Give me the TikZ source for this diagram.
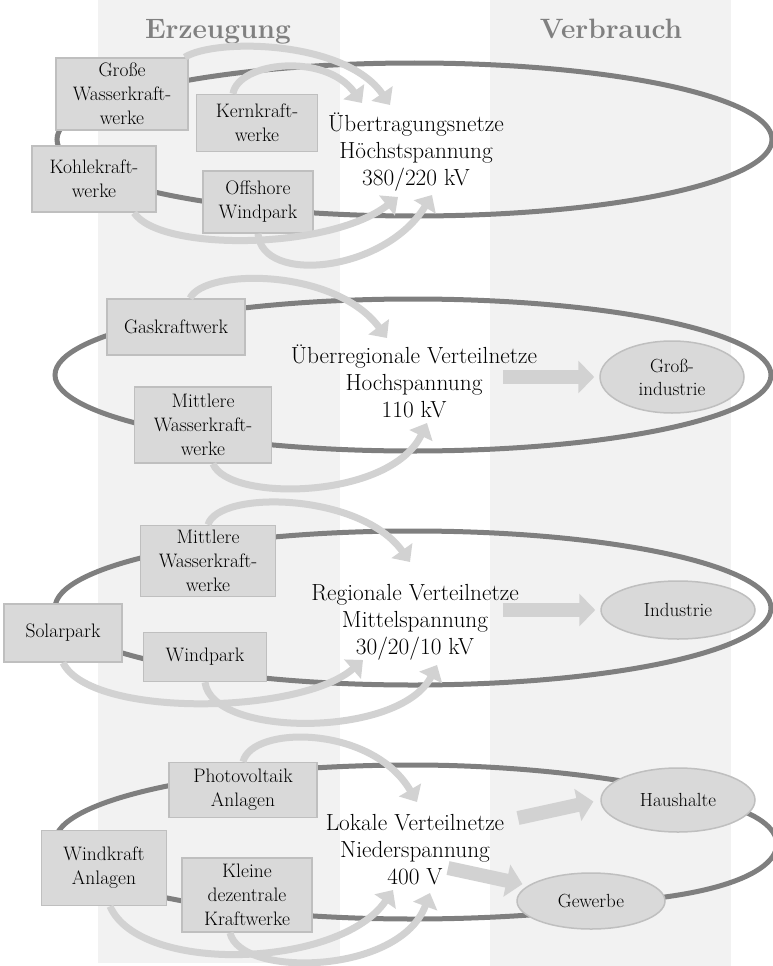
\documentclass[tikz,border=0pt]{standalone}
\usetikzlibrary{arrows.meta,shapes.geometric}
\definecolor{spalte}{HTML}{F2F2F2}
\definecolor{ringgrau}{HTML}{7F7F7F}
\definecolor{kasten}{HTML}{D9D9D9}
\definecolor{kastenrand}{HTML}{BFBFBF}
\definecolor{pfeil}{HTML}{D2D2D2}
\definecolor{titel}{HTML}{808080}

\begin{document}
\begin{tikzpicture}[x=1pt, y=1pt,
    quelle/.style={rectangle, draw=kastenrand, fill=kasten, line width=1.5pt, align=center, inner sep=1pt, font=\fontsize{19.5}{24}\selectfont},
    senke/.style={ellipse, draw=kastenrand, fill=kasten, line width=1.5pt, align=center, inner sep=0pt, font=\fontsize{19}{23}\selectfont},
    netztext/.style={align=center, font=\fontsize{23.3}{27}\selectfont},
    netzring/.style={draw=ringgrau, line width=5pt},
    zufluss/.style={draw=pfeil, line width=7pt, -{Triangle[length=14pt, width=25pt]}},
    abfluss/.style={draw=pfeil, line width=14pt, -{Triangle[length=16pt, width=32pt]}},
    kopf/.style={anchor=base, text=titel, font=\fontsize{28}{30}\selectfont\bfseries}]
    \useasboundingbox (0,0) rectangle (773,-966);
    % Spalten
    \fill[spalte] (98,0) rectangle (340,-963);
    \fill[spalte] (490,0) rectangle (731,-966);
    \node[kopf] (erz) at (218,-38) {Erzeugung};
    \node[kopf] (verb) at (611,-38) {Verbrauch};

    % Netzebenen
    \draw[netzring] (414.5,-139.5) ellipse [x radius=357.5pt, y radius=76.5pt];
    \draw[netzring] (413,-375) ellipse [x radius=358pt, y radius=76pt];
    \draw[netzring] (413,-608) ellipse [x radius=358pt, y radius=77pt];
    \draw[netzring] (413,-765) .. controls (560,-765) and (700,-790) .. (745,-812)
      .. controls (800,-835) and (790,-880) .. (665,-897)
      .. controls (600,-912) and (500,-919) .. (413,-919)
      arc [start angle=270, end angle=90, x radius=358pt, y radius=77pt];

    % Erzeuger
    \node[quelle, minimum width=132pt, minimum height=72pt] (gross) at (122,-94) {Große\\Wasserkraft-\\werke};
    \node[quelle, minimum width=121pt, minimum height=57pt] (kern) at (257,-123) {Kernkraft-\\werke};
    \node[quelle, minimum width=124pt, minimum height=66pt] (kohle) at (94,-179) {Kohlekraft-\\werke};
    \node[quelle, minimum width=110pt, minimum height=62pt] (offshore) at (258,-202) {Offshore\\Windpark};
    \node[quelle, minimum width=138pt, minimum height=56pt] (gas) at (176,-327) {Gaskraftwerk};
    \node[quelle, minimum width=137pt, minimum height=76pt] (mittelb) at (203,-425) {Mittlere\\Wasserkraft-\\werke};
    \node[quelle, minimum width=135pt, minimum height=71pt] (mittelc) at (208,-561) {Mittlere\\Wasserkraft-\\werke};
    \node[quelle, minimum width=118pt, minimum height=58pt] (solar) at (63,-633) {Solarpark};
    \node[quelle, minimum width=123pt, minimum height=49pt] (wind) at (205,-657) {Windpark};
    \node[quelle, minimum width=148pt, minimum height=55pt] (pv) at (243,-790) {Photovoltaik\\Anlagen};
    \node[quelle, minimum width=125pt, minimum height=75pt] (windkraft) at (104,-868) {Windkraft\\Anlagen};
    \node[quelle, minimum width=130pt, minimum height=74pt] (klein) at (247,-895) {Kleine\\dezentrale\\Kraftwerke};

    % Netze
    \node[netztext] (hoechst) at (416,-152) {Übertragungsnetze\\Höchstspannung\\380/220 kV};
    \node[netztext] (hoch) at (414,-381) {Überregionale Verteilnetze\\Hochspannung\\110 kV};
    \node[netztext] (mittel) at (415,-622) {Regionale Verteilnetze\\Mittelspannung\\30/20/10 kV};
    \node[netztext] (nieder) at (415,-850) {Lokale Verteilnetze\\Niederspannung\\400 V};

    % Verbraucher
    \node[senke, minimum width=144pt, minimum height=72pt] (gi) at (672,-377) {Groß-\\industrie};
    \node[senke, minimum width=154pt, minimum height=58pt] (ind) at (678,-610) {Industrie};
    \node[senke, minimum width=154pt, minimum height=64pt] (haus) at (678,-800) {Haushalte};
    \node[senke, minimum width=148pt, minimum height=56pt] (gew) at (591,-901) {Gewerbe};

    % Einspeisung
    \coordinate (ein-a) at (362,-103);
    \coordinate (ein-b) at (390,-105);
    \coordinate (ein-c) at (398,-197);
    \coordinate (ein-d) at (432,-195);
    \coordinate (ein-e) at (387,-338);
    \coordinate (ein-f) at (427,-423);
    \coordinate (ein-g) at (410,-562);
    \coordinate (ein-h) at (363,-660);
    \coordinate (ein-i) at (437,-665);
    \coordinate (ein-j) at (417,-802);
    \coordinate (ein-k) at (393,-890);
    \coordinate (ein-l) at (430,-893);
    \draw[zufluss] ([xshift=-4pt]gross.north east) .. controls (215,-38) and (345,-40) .. (ein-b);
    \draw[zufluss] ([xshift=-24pt]kern.north) .. controls (238,-62) and (325,-52) .. (ein-a);
    \draw[zufluss] ([xshift=40pt]kohle.south) .. controls (160,-252) and (330,-250) .. (ein-c);
    \draw[zufluss] (offshore.south) .. controls (262,-285) and (385,-272) .. (ein-d);
    \draw[zufluss] ([xshift=14pt]gas.north) .. controls (205,-268) and (335,-268) .. (ein-e);
    \draw[zufluss] ([xshift=10pt]mittelb.south) .. controls (228,-502) and (390,-500) .. (ein-f);
    \draw[zufluss] (mittelc.north) .. controls (218,-490) and (360,-492) .. (ein-g);
    \draw[zufluss] (solar.south) .. controls (90,-718) and (300,-715) .. (ein-h);
    \draw[zufluss] (wind.south) .. controls (212,-738) and (400,-738) .. (ein-i);
    \draw[zufluss] (pv.north) .. controls (252,-725) and (372,-725) .. (ein-j);
    \draw[zufluss] ([xshift=6pt]windkraft.south) .. controls (140,-975) and (340,-968) .. (ein-k);
    \draw[zufluss] ([xshift=-17pt]klein.south) .. controls (240,-978) and (400,-975) .. (ein-l);

    % Abgabe
    \coordinate (aus-a) at (503,-377);
    \coordinate (aus-b) at (503,-610);
    \coordinate (aus-c) at (518,-818);
    \coordinate (aus-d) at (448,-868);
    \draw[abfluss, shorten >=5pt] (aus-a) -- (gi.west);
    \draw[abfluss, shorten >=5pt] (aus-b) -- (ind.west);
    \draw[abfluss, shorten >=7pt] (aus-c) -- (haus.west);
    \draw[abfluss, shorten >=6pt] (aus-d) -- (gew.166);
\end{tikzpicture}
\end{document}
